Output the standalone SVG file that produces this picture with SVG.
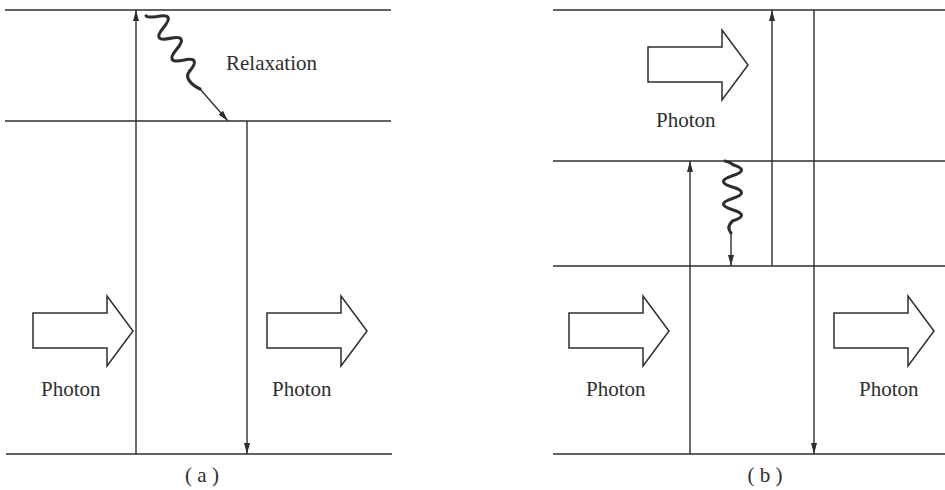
<svg xmlns="http://www.w3.org/2000/svg" width="945" height="490" viewBox="0 0 945 490">
<style>
.lvl{stroke:#2e2e2e;stroke-width:1.6;fill:none}
.tr{stroke:#2e2e2e;stroke-width:1.4;fill:none}
.wave{stroke:#2e2e2e;stroke-width:3.1;fill:none;stroke-linejoin:round;stroke-linecap:round}
.blk{fill:#fff;stroke:#2e2e2e;stroke-width:1.5;stroke-linejoin:miter}
.lbl{font-family:"Liberation Serif","Times New Roman",serif;font-size:21px;fill:#2e2e2e}
</style>
<defs>
<marker id="ah" viewBox="0 0 11 6" refX="11" refY="3" markerWidth="11" markerHeight="6" markerUnits="userSpaceOnUse" orient="auto">
<path d="M0,0 L11,3 L0,6 z" fill="#2e2e2e"/>
</marker>
<polygon id="blockArrow" points="0,17 74,17 74,0 100,35 74,70 74,52 0,52"/>
</defs>
<rect width="945" height="490" fill="#fff"/>

<!-- Panel (a) -->
<g id="a-level-top"><line class="lvl" x1="5" y1="10" x2="391" y2="10"/></g>
<g id="a-level-mid"><line class="lvl" x1="5" y1="121" x2="391" y2="121"/></g>
<g id="a-level-bottom"><line class="lvl" x1="6" y1="454" x2="392" y2="454"/></g>
<g id="a-photon-in">
<use href="#blockArrow" class="blk" x="33" y="296"/>
<text class="lbl" x="41" y="396">Photon</text>
</g>
<g id="a-photon-out">
<use href="#blockArrow" class="blk" x="267" y="296"/>
<text class="lbl" x="272" y="396">Photon</text>
</g>
<g id="a-relaxation-label"><text class="lbl" x="226" y="70">Relaxation</text></g>
<g id="a-caption"><text class="lbl" x="202" y="482" text-anchor="middle">( a )</text></g>

<!-- Panel (b) -->
<g id="b-level-top"><line class="lvl" x1="553" y1="10" x2="945" y2="10"/></g>
<g id="b-level-2"><line class="lvl" x1="553" y1="161" x2="945" y2="161"/></g>
<g id="b-level-3"><line class="lvl" x1="553" y1="266" x2="945" y2="266"/></g>
<g id="b-level-bottom"><line class="lvl" x1="553" y1="454" x2="945" y2="454"/></g>
<g id="b-photon-top">
<use href="#blockArrow" class="blk" x="648" y="30"/>
<text class="lbl" x="656" y="127">Photon</text>
</g>
<g id="b-photon-in">
<use href="#blockArrow" class="blk" x="569" y="296"/>
<text class="lbl" x="586" y="396">Photon</text>
</g>
<g id="b-photon-out">
<use href="#blockArrow" class="blk" x="834" y="296"/>
<text class="lbl" x="859" y="396">Photon</text>
</g>
<g id="b-caption"><text class="lbl" x="765" y="482" text-anchor="middle">( b )</text></g>

<!-- Connectors -->
<g id="connectors">
<line class="tr" x1="136" y1="454" x2="136" y2="10" marker-end="url(#ah)"/>
<line class="tr" x1="247" y1="121" x2="247" y2="454" marker-end="url(#ah)"/>
<path class="wave" transform="translate(157,16.6) rotate(59)" d="M-6.35,9 C-3.8,9 -1.6,3.4 0,0 Q6.35,-18 12.7,0 T25.4,0 T38.1,0 T50.8,0 T63.5,0"/>
<path class="wave" d="M189.7,71 C184,77.5 191,84.5 200,89"/>
<line class="tr" x1="200" y1="89" x2="228" y2="121" marker-end="url(#ah)"/>
<line class="tr" x1="690" y1="454" x2="690" y2="161" marker-end="url(#ah)"/>
<line class="tr" x1="772" y1="266" x2="772" y2="10" marker-end="url(#ah)"/>
<line class="tr" x1="814" y1="10" x2="814" y2="454" marker-end="url(#ah)"/>
<path class="wave" d="M725,161 C728,161.3 730.5,162.5 732.5,164.4 Q750.5,170.1 732.5,175.8 T732.5,187.1 T732.5,198.4 T732.5,209.7 T732.5,221 Q726,227 731,233"/>
<line class="tr" x1="731" y1="233" x2="731" y2="266" marker-end="url(#ah)"/>
</g>
</svg>
